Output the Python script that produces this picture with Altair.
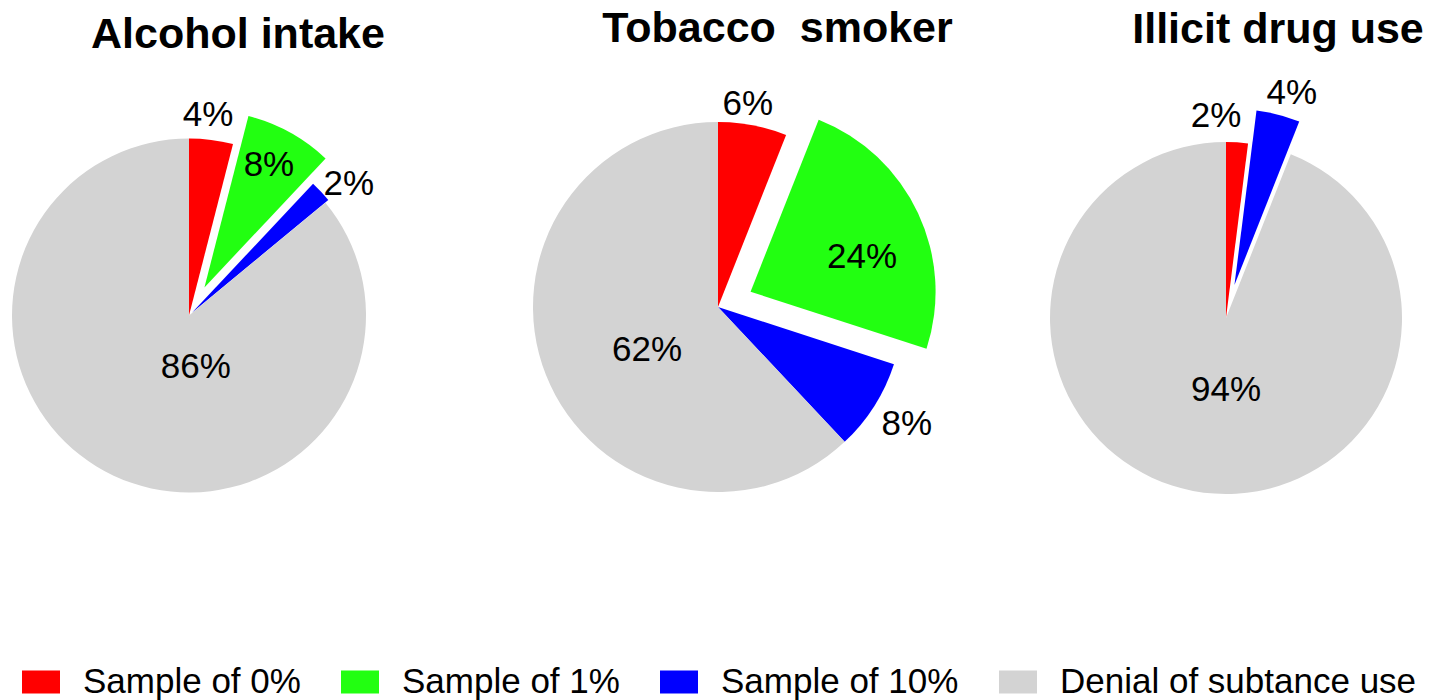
import altair as alt
import pandas as pd

# ---------------- data ----------------
CATEGORIES = ["Sample of 0%", "Sample of 1%", "Sample of 10%", "Denial of subtance use"]
COLORS = ["#FF0000", "#22FF11", "#0000FF", "#D3D3D3"]

alcohol_title = "Alcohol intake"
alcohol_cats = ["Sample of 0%", "Sample of 1%", "Sample of 10%", "Denial of subtance use"]
alcohol_vals = [4, 8, 2, 86]

tobacco_title = "Tobacco\u00a0 smoker"
tobacco_cats = ["Sample of 0%", "Sample of 1%", "Sample of 10%", "Denial of subtance use"]
tobacco_vals = [6, 24, 8, 62]

illicit_title = "Illicit drug use"
illicit_cats = ["Sample of 0%", "Sample of 10%", "Denial of subtance use"]
illicit_vals = [2, 4, 94]

# ---------------- style ----------------
FONT = "Liberation Sans"
alcohol_explode = [0, 32, 4, 0]
alcohol_label_r = [203, 172, 208, 50]
alcohol_label_nudge = [-1.8, -1.1, 3.4, -33]

tobacco_explode = [0, 36, 0, 0]
tobacco_label_r = [207, 153, 221, 82]
tobacco_label_nudge = [-2.5, 5.5, -1.1, -8.4]

illicit_explode = [0, 34, 0]
illicit_label_r = [204, 236, 70]
illicit_label_nudge = [-6.4, 1.8, -10.8]

PANEL_H = 640

legend = alt.Legend(
    orient="none", legendX=22, legendY=663, direction="horizontal", columns=4,
    title=None, symbolType="M-1,-0.6H1V0.6H-1Z", symbolSize=1444,
    symbolStrokeWidth=0, labelFontSize=35, labelFont=FONT, labelColor="black",
    labelOffset=23, columnPadding=40, labelLimit=600, padding=0,
)


def pie_panel(title, cats, vals, explode, lab_r, lab_nudge, width, cx, cy, radius, tx, ty):
    df = pd.DataFrame({
        "cat": cats, "value": vals, "order": list(range(len(cats))),
        "explode": explode, "lr": lab_r, "nudge": lab_nudge,
    })
    base = (
        alt.Chart(df)
        .transform_window(cum="sum(value)", sort=[alt.SortField("order")], frame=[None, 0])
        .transform_calculate(a0="(datum.cum - datum.value) / 100 * 2 * PI",
                             a1="datum.cum / 100 * 2 * PI")
        .transform_calculate(mid="(datum.a0 + datum.a1) / 2")
        .transform_calculate(
            ax=f"{cx} + datum.explode * sin(datum.mid)",
            ay=f"{cy} - datum.explode * cos(datum.mid)",
            la="datum.mid + datum.nudge * PI / 180",
            label="datum.value + '%'",
        )
        .transform_calculate(
            lx=f"{cx} + datum.lr * sin(datum.la)",
            ly=f"{cy} - datum.lr * cos(datum.la)",
        )
    )
    arcs = base.mark_arc(radius=radius).encode(
        x=alt.X("ax:Q", scale=None, axis=None),
        y=alt.Y("ay:Q", scale=None, axis=None),
        theta=alt.Theta("a0:Q", scale=None),
        theta2="a1:Q",
        color=alt.Color("cat:N", scale=alt.Scale(domain=CATEGORIES, range=COLORS), legend=legend),
    )
    labels = base.mark_text(font=FONT, fontSize=35, baseline="middle", align="center",
                            dy=2, color="black").encode(
        x=alt.X("lx:Q", scale=None, axis=None),
        y=alt.Y("ly:Q", scale=None, axis=None),
        text="label:N",
    )
    ttl = alt.Chart(alt.Data(values=[{"t": title}])).mark_text(
        font=FONT, fontSize=43, fontWeight="bold", baseline="alphabetic",
        align="center", color="black",
    ).encode(x=alt.value(tx), y=alt.value(ty), text="t:N")
    return alt.layer(arcs, labels, ttl).properties(width=width, height=PANEL_H)


p1 = pie_panel(alcohol_title, alcohol_cats, alcohol_vals, alcohol_explode,
               alcohol_label_r, alcohol_label_nudge, 378, 189, 315.5, 177, 238, 48)
p2 = pie_panel(tobacco_title, tobacco_cats, tobacco_vals, tobacco_explode,
               tobacco_label_r, tobacco_label_nudge, 680, 340, 307, 185, 399.5, 42)
p3 = pie_panel(illicit_title, illicit_cats, illicit_vals, illicit_explode,
               illicit_label_r, illicit_label_nudge, 336, 168, 318, 176, 220, 43)

chart = (
    alt.hconcat(p1, p2, p3, spacing=0, bounds="flush")
    .properties(padding=0, background="white")
    .configure_view(stroke=None)
)

chart.save("out.html", embed_options={"renderer": "svg", "actions": False})
